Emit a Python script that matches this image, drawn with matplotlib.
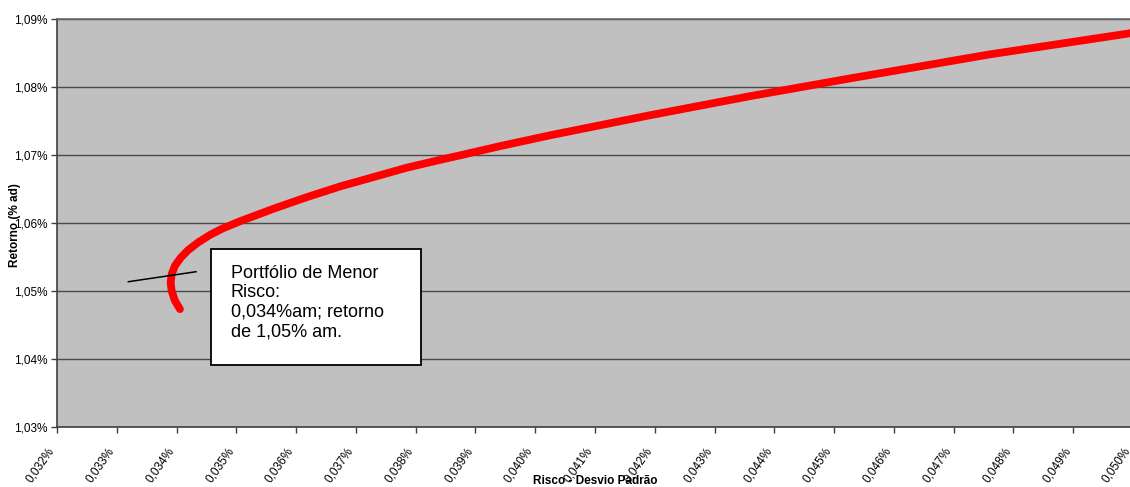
import matplotlib
matplotlib.use("Agg")
import matplotlib.pyplot as plt
from matplotlib.patches import Rectangle
from matplotlib.lines import Line2D

# Efficient frontier (risk % and return %)
risk = [0.034057, 0.033973, 0.033918, 0.033901, 0.033918, 0.033973, 0.034074,
        0.034196, 0.034363, 0.034559, 0.034754, 0.035060, 0.035617, 0.036176,
        0.036732, 0.037289, 0.037848, 0.038405, 0.038739, 0.039408, 0.040244,
        0.041916, 0.043589, 0.045261, 0.047602, 0.049943, 0.050050]
ret = [1.047330, 1.048555, 1.050029, 1.051254, 1.052493, 1.053717, 1.054941,
       1.056032, 1.057153, 1.058245, 1.059130, 1.060251, 1.062080, 1.063791,
       1.065369, 1.066740, 1.068127, 1.069277, 1.069941, 1.071298, 1.072891,
       1.075841, 1.078643, 1.081254, 1.084794, 1.087891, 1.088020]

x_ticks = [0.032 + 0.001 * i for i in range(19)]
y_ticks = [1.03, 1.04, 1.05, 1.06, 1.07, 1.08, 1.09]
x_labels = [f"{v:.3f}%".replace(".", ",") for v in x_ticks]
y_labels = [f"{v:.2f}%".replace(".", ",") for v in y_ticks]

x_title = "Risco - Desvio Padrão"
y_title = "Retorno (% ad)"
note = "Portfólio de Menor\nRisco:\n0,034%am; retorno\nde 1,05% am."

plt.rcParams["font.family"] = ["Liberation Sans", "DejaVu Sans"]

fig = plt.figure(figsize=(11.3, 4.87), dpi=100)
fig.patch.set_facecolor("white")
ax = fig.add_axes([57 / 1130, 60 / 487, 1076 / 1130, 408 / 487])
ax.set_facecolor("#C0C0C0")

ax.set_xlim(0.032, 0.050)
ax.set_ylim(1.03, 1.09)

ax.set_yticks(y_ticks)
ax.set_yticklabels(y_labels, fontsize=8.5)
ax.set_xticks(x_ticks)
ax.set_xticklabels(x_labels, fontsize=8.5, rotation=55, ha="right", va="top")
ax.tick_params(axis="both", direction="out", length=4, width=1, color="#404040")
ax.tick_params(axis="y", pad=3)
ax.tick_params(axis="x", pad=9)

ax.grid(axis="y", color="#4a4a4a", linewidth=1.0)
ax.set_axisbelow(True)

for side in ["left", "bottom"]:
    ax.spines[side].set_color("#404040")
    ax.spines[side].set_linewidth(1.2)
ax.spines["top"].set_color("#6a6a6a")
ax.spines["top"].set_linewidth(1.2)
ax.spines["right"].set_visible(False)

ax.plot(risk, ret, color="#FF0000", linewidth=5.6, solid_capstyle="round",
        solid_joinstyle="round", zorder=3)

# annotation box and callout line
ax.add_patch(Rectangle((0.1428, 0.152), 0.1955, 0.2843, transform=ax.transAxes,
                       facecolor="white", edgecolor="black", linewidth=1.3, zorder=4))
ax.text(0.1614, 0.398, note, transform=ax.transAxes, fontsize=13,
        ha="left", va="top", linespacing=1.2, zorder=5)
ax.add_line(Line2D([0.0663, 0.1292], [0.3561, 0.3806], transform=ax.transAxes,
                   color="black", linewidth=1.1, zorder=4))

fig.text(595 / 1130, 1 - 481 / 487, x_title, fontsize=8.5, fontweight="bold",
         ha="center", va="center")
fig.text(15 / 1130, 1 - 225 / 487, y_title, fontsize=8.5, fontweight="bold",
         ha="center", va="center", rotation=90)

fig.savefig("out.png", dpi=100, facecolor="white")
